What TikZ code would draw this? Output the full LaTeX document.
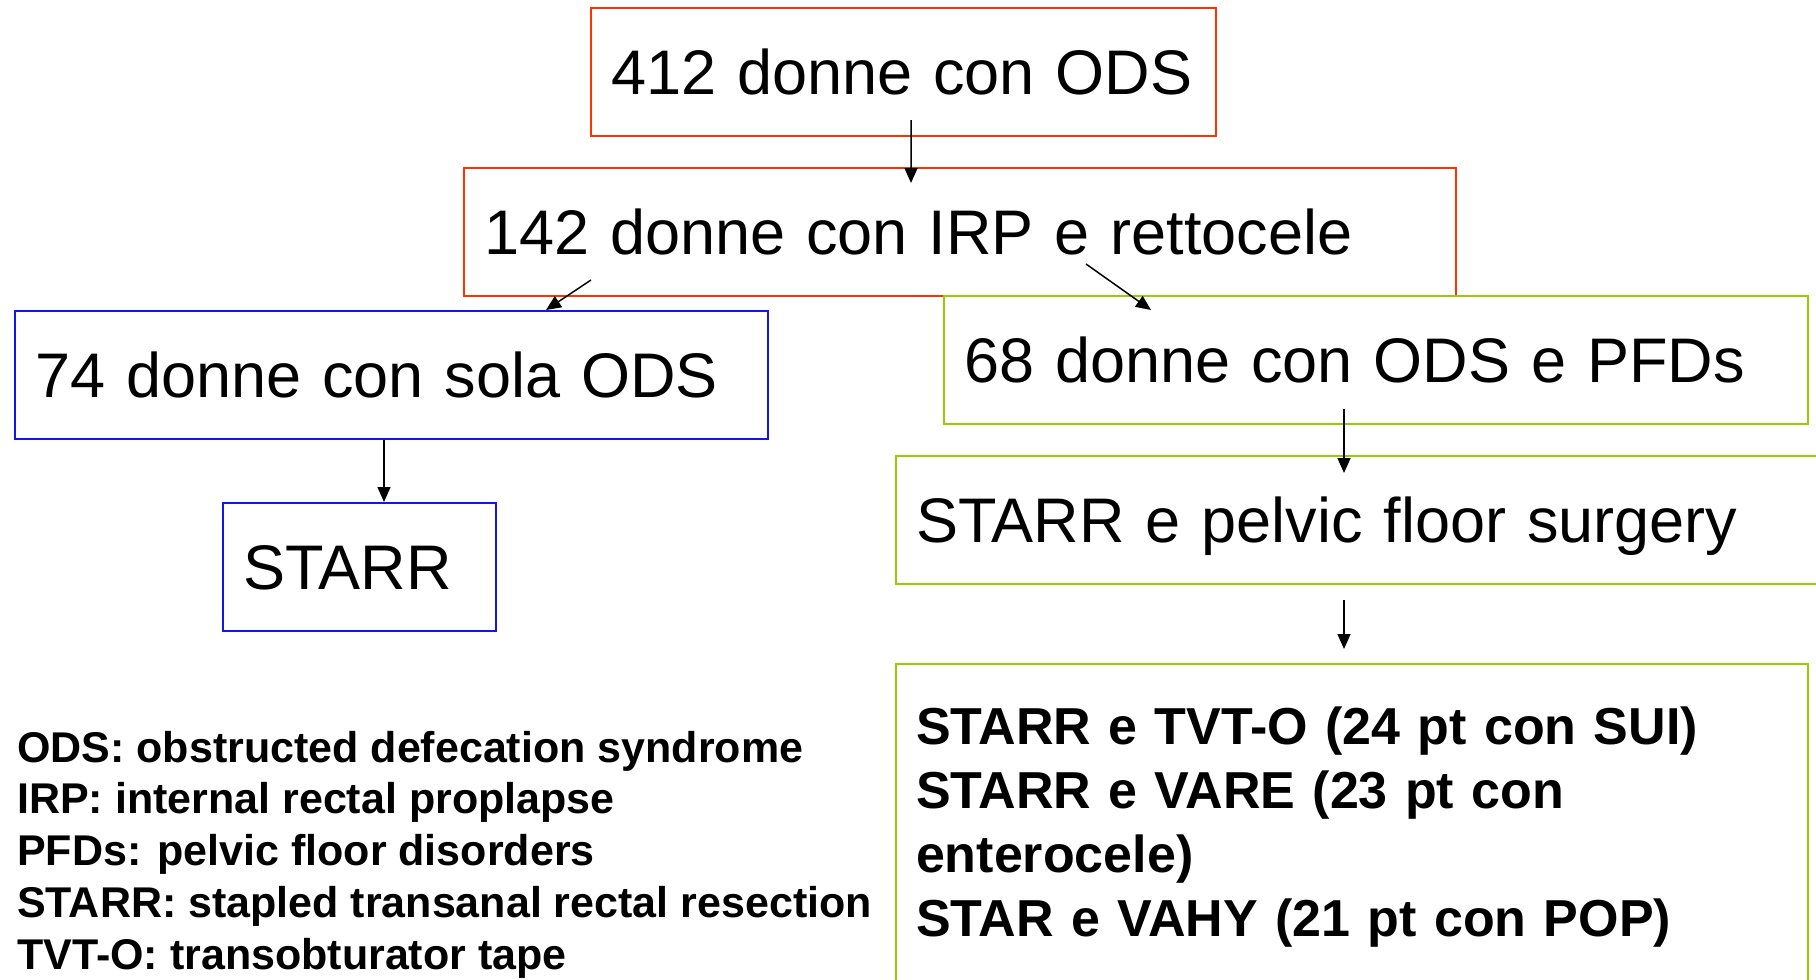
\documentclass[tikz,border=0pt]{standalone}
\usepackage{fontspec}
\setmainfont{Liberation Sans}
\usetikzlibrary{arrows.meta,calc}
\definecolor{flowRed}{RGB}{255,51,0}
\definecolor{flowBlue}{RGB}{20,20,240}
\definecolor{flowGreen}{RGB}{153,204,0}

\begin{document}
\begin{tikzpicture}[
    x=1bp, y=-1bp,
    stage/.style={draw, line width=2bp, anchor=north west, align=left,
      inner xsep=20bp, inner ysep=0bp, minimum height=128bp,
      text height=45bp, text depth=0bp,
      font=\fontsize{63bp}{75bp}\selectfont},
    link/.style={line width=1.5bp, -{Triangle[length=15bp,width=13bp]}},
  ]
  \useasboundingbox (0,0) rectangle (1816,979);

  % main branch
  \node[stage, draw=flowRed, text width=585bp] (ods) at (590,7) {412 donne con ODS};
  \node[stage, draw=flowRed, text width=952bp] (irp) at (463,167) {142 donne con IRP e rettocele};

  % left branch
  \node[stage, draw=flowBlue, text width=713bp] (sola) at (14,310) {74 donne con sola ODS};
  \node[stage, draw=flowBlue, text width=233bp] (starr) at (222,502) {STARR};

  % right branch
  \node[stage, draw=flowGreen, text width=824bp] (pfd) at (943,295) {68 donne con ODS e PFDs};
  \node[stage, draw=flowGreen, text width=895bp] (surgery) at (895,455) {STARR e pelvic floor surgery};
  \node[draw=flowGreen, line width=2bp, anchor=north west, align=left,
    inner xsep=20bp, inner ysep=43bp, text width=872bp,
    font=\fontsize{52bp}{64bp}\selectfont\bfseries] (combo) at (895,663)
    {STARR e TVT-O (24 pt con SUI)\\
     STARR e VARE (23 pt con\\
     enterocele)\\
     STAR e VAHY (21 pt con POP)};

  % legenda
  \node[anchor=base west, align=left, inner sep=0pt,
    font=\fontsize{43bp}{51.75bp}\selectfont\bfseries] (legend) at (17,969)
    {ODS: obstructed defecation syndrome\\
     IRP: internal rectal proplapse\\
     PFDs: pelvic floor disorders\\
     STARR: stapled transanal rectal resection\\
     TVT-O: transobturator tape};

  % arrows
  \draw[link] ([shift={(7.5,-17)}]ods.south) -- ([shift={(-49,16)}]irp.north);
  \draw[link] ([shift={(-369,-17)}]irp.south) -- ([shift={(154.5,0)}]sola.north);
  \draw[link] ([shift={(126,-33)}]irp.south) -- ([shift={(-225,15)}]pfd.north);
  \draw[link] ([shift={(-7.5,0)}]sola.south) -- ($(starr.north -| sola.south)+(-7.5,0)$);
  \draw[link] ([shift={(-32,-16)}]pfd.south) -- ($(pfd.south)+(-32,48)$);
  \draw[link] ([shift={(-19.5,15)}]surgery.south) -- ($(surgery.south)+(-19.5,64)$);
\end{tikzpicture}
\end{document}
